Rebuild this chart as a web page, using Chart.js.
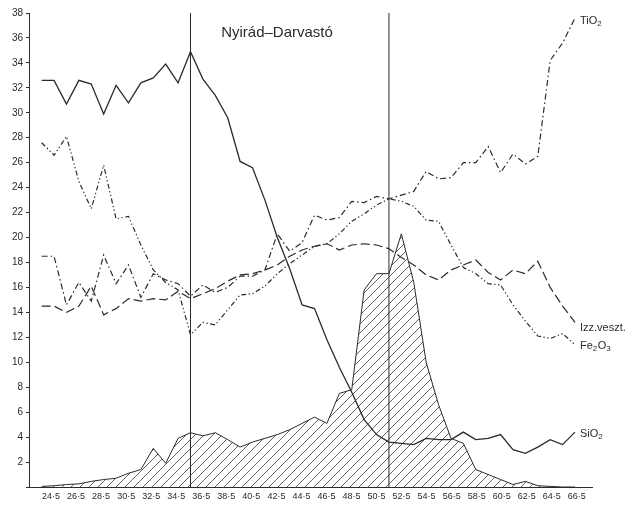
<!DOCTYPE html>
<html>
<head>
<meta charset="utf-8">
<script src="https://cdn.jsdelivr.net/npm/chart.js@4.4.1/dist/chart.umd.min.js"></script>
<style>
  html, body { margin: 0; padding: 0; background: #fff; }
  #wrap { width: 627px; height: 506px; }
</style>
</head>
<body>
<div id="wrap"><canvas id="profileChart"></canvas></div>
<script>
// one analysed sample per metre along the profile
const samples = [1, 2, 3, 4, 5, 6, 7, 8, 9, 10, 11, 12, 13, 14, 15, 16, 17, 18, 19, 20, 21, 22,
                 23, 24, 25, 26, 27, 28, 29, 30, 31, 32, 33, 34, 35, 36, 37, 38, 39, 40, 41, 42, 43, 44];

const sio2 = [32.6, 32.6, 30.7, 32.6, 32.3, 29.9, 32.2, 30.8, 32.4, 32.8, 33.9, 32.4, 34.9, 32.7, 31.4,
              29.6, 26.1, 25.6, 23.0, 20.0, 17.5, 14.6, 14.3, 11.8, 9.6, 7.6, 5.4, 4.2, 3.6, 3.5,
              3.4, 3.9, 3.8, 3.8, 4.4, 3.8, 3.9, 4.2, 3.0, 2.7, 3.2, 3.8, 3.4, 4.4];
const tio2 = [18.5, 18.5, 14.6, 16.4, 14.9, 18.6, 16.3, 17.8, 15.2, 17.1, 16.6, 16.3, 15.3, 16.2, 15.6,
              16.0, 16.9, 16.9, 17.4, 20.3, 18.9, 19.6, 21.8, 21.4, 21.6, 22.9, 22.8, 23.3, 23.1, 23.4,
              23.7, 25.3, 24.7, 24.8, 26.0, 26.0, 27.3, 25.2, 26.7, 25.9, 26.5, 34.2, 35.6, 37.6];
const fe2o3 = [27.6, 26.6, 28.1, 24.5, 22.3, 25.8, 21.5, 21.7, 19.4, 17.4, 16.4, 15.8, 12.2, 13.2, 13.0,
               14.2, 15.4, 15.5, 16.1, 17.1, 17.9, 18.6, 19.3, 19.5, 20.3, 21.3, 21.9, 22.6, 23.1, 22.9,
               22.5, 21.4, 21.3, 19.4, 17.6, 17.1, 16.3, 16.2, 14.6, 13.3, 12.1, 11.9, 12.3, 11.4];
const izzVeszt = [14.5, 14.5, 14.0, 14.5, 16.1, 13.8, 14.3, 15.1, 14.9, 15.1, 15.0, 15.7, 15.1, 15.5, 15.9,
                  16.5, 17.0, 17.1, 17.4, 17.8, 18.5, 19.0, 19.3, 19.5, 19.0, 19.4, 19.5, 19.4, 19.1, 18.4,
                  17.8, 17.0, 16.6, 17.4, 17.8, 18.2, 17.2, 16.6, 17.4, 17.1, 18.1, 16.0, 14.5, 13.2];
// unlabelled hatched curve
const hatched = [0.05, 0.1, 0.2, 0.25, 0.45, 0.6, 0.7, 1.1, 1.4, 3.1, 1.9, 3.9, 4.35, 4.1, 4.35,
                 3.8, 3.2, 3.6, 3.9, 4.2, 4.6, 5.1, 5.6, 5.1, 7.5, 7.8, 15.8, 17.1, 17.1, 20.3,
                 16.4, 10.0, 6.6, 3.9, 3.5, 1.4, 1.0, 0.6, 0.2, 0.45, 0.1, 0.05, 0, 0];

// samples where the two vertical boundary lines are drawn
const boundaries = [13, 29];

// depth labels along the bottom axis
const depthTicks = [24.5, 26.5, 28.5, 30.5, 32.5, 34.5, 36.5, 38.5, 40.5, 42.5, 44.5,
                    46.5, 48.5, 50.5, 52.5, 54.5, 56.5, 58.5, 60.5, 62.5, 64.5, 66.5];

const title = 'Nyirád–Darvastó';
const ink = '#2b2b2b';
const font = '"Liberation Sans", Arial, sans-serif';

function pts(values) {
  return samples.map((s, i) => ({ x: s, y: values[i] }));
}

// diagonal hatching for the shaded area
function makeHatch() {
  const c = document.createElement('canvas');
  c.width = 9; c.height = 9;
  const g = c.getContext('2d');
  g.strokeStyle = '#3a3a3a';
  g.lineWidth = 0.8;
  g.beginPath();
  g.moveTo(0, 9); g.lineTo(9, 0);
  g.moveTo(-1, 1); g.lineTo(1, -1);
  g.moveTo(8, 10); g.lineTo(10, 8);
  g.stroke();
  return g.createPattern(c, 'repeat');
}

// formula with numeric subscripts, e.g. Fe2O3
function drawFormula(ctx, text, x, y) {
  let cx = x;
  for (const part of text.match(/\d+|\D+/g)) {
    const sub = /^\d+$/.test(part);
    ctx.font = (sub ? '8px ' : '11px ') + font;
    ctx.fillText(part, cx, sub ? y + 3 : y);
    cx += ctx.measureText(part).width + (sub ? 0.5 : 0);
  }
}

const endLabels = [
  { text: 'TiO2', values: tio2, dy: 3 },
  { text: 'Izz.veszt.', values: izzVeszt, dy: 6 },
  { text: 'Fe2O3', values: fe2o3, dy: 1 },
  { text: 'SiO2', values: sio2, dy: 2 }
];

const annotate = {
  id: 'annotate',
  afterDatasetsDraw(chart) {
    const { ctx, chartArea } = chart;
    const x = chart.scales.x, y = chart.scales.y;
    ctx.save();
    ctx.fillStyle = ink;
    ctx.textBaseline = 'middle';
    ctx.textAlign = 'center';
    ctx.font = '15px ' + font;
    ctx.fillText(title, chartArea.left + 248, chartArea.top + 20);
    ctx.textAlign = 'left';
    endLabels.forEach(l => {
      const last = l.values.length - 1;
      drawFormula(ctx, l.text, x.getPixelForValue(samples[last]) + 5,
                  y.getPixelForValue(l.values[last]) + l.dy);
    });
    ctx.restore();
  }
};

const line = (label, values, dash, width) => ({
  label, data: pts(values), borderColor: ink, borderWidth: width || 1.2,
  borderDash: dash, pointRadius: 0, fill: false, tension: 0
});

const datasets = [
  line('SiO2', sio2, [], 1.3),
  line('TiO2', tio2, [6, 3, 1.5, 3]),
  line('Fe2O3', fe2o3, [5, 2.5, 1.3, 2.5, 1.3, 2.5]),
  line('Izz.veszt.', izzVeszt, [9, 4]),
  {
    label: 'hatched', data: pts(hatched), borderColor: ink, borderWidth: 1,
    backgroundColor: makeHatch(), fill: 'origin', pointRadius: 0, tension: 0, order: 10
  }
];
boundaries.forEach(b => datasets.push({
  label: 'boundary', data: [{ x: b, y: 0 }, { x: b, y: 38 }],
  borderColor: ink, borderWidth: 1, pointRadius: 0, fill: false
}));

new Chart(document.getElementById('profileChart'), {
  type: 'line',
  data: { datasets },
  options: {
    responsive: true,
    maintainAspectRatio: false,
    animation: false,
    layout: { padding: { top: 13, right: 35, left: 0, bottom: 0 } },
    plugins: { legend: { display: false }, tooltip: { enabled: false } },
    scales: {
      x: {
        type: 'linear', display: false, min: -0.02, max: 45.37
      },
      depth: {
        type: 'linear', position: 'bottom', min: 22.74, max: 67.71,
        afterBuildTicks: s => { s.ticks = depthTicks.map(v => ({ value: v })); },
        afterFit: s => { s.height = 19; },
        grid: { drawOnChartArea: false, drawTicks: false },
        border: { color: ink, width: 1 },
        ticks: {
          color: ink, padding: 4, maxRotation: 0, autoSkip: false,
          font: { size: 9, family: font },
          callback: v => v.toFixed(1).replace('.', '·')
        }
      },
      y: {
        min: 0, max: 38,
        afterFit: s => { s.width = 29; },
        grid: { drawOnChartArea: false, tickLength: 3, color: ink },
        border: { color: ink, width: 1 },
        ticks: {
          stepSize: 2, color: ink, padding: 3,
          font: { size: 10, family: font },
          callback: v => v === 0 ? '' : v
        }
      }
    }
  },
  plugins: [annotate]
});
</script>
</body>
</html>
